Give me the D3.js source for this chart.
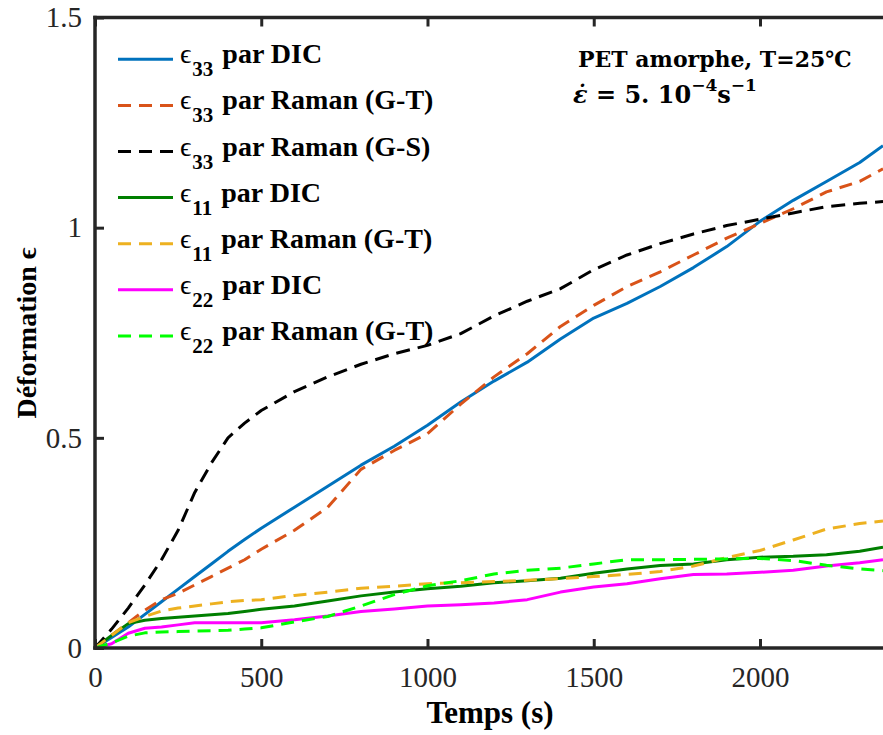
<!DOCTYPE html>
<html><head><meta charset="utf-8">
<script src="https://cdn.jsdelivr.net/npm/d3@7"></script>
<style>
body{margin:0;background:#fff}svg{display:block}
.tnr{font-family:"Liberation Serif","Times New Roman",Tinos,"Nimbus Roman","FreeSerif","DejaVu Serif",serif;}
.dvs{font-family:"DejaVu Serif",serif;}
</style>
</head><body>
<svg id="c" width="883" height="735"></svg>
<script>
// ---- data ----
const time = [0,50,100,150,200,250,300,350,400,450,500,600,700,800,900,1000,1100,1200,1300,1400,1500,1600,1700,1800,1900,2000,2100,2200,2300,2370];
const e33DIC = [0,.025,.05,.08,.11,.14,.17,.2,.23,.258,.285,.335,.385,.435,.48,.53,.585,.635,.68,.735,.785,.82,.86,.905,.955,1.015,1.065,1.11,1.155,1.195];
const e33RamanGT = [0,.03,.06,.09,.115,.13,.15,.17,.19,.21,.235,.28,.335,.425,.47,.51,.58,.645,.70,.765,.815,.86,.895,.935,.975,1.01,1.045,1.085,1.11,1.14];
const e33RamanGS = [0,.045,.095,.15,.21,.28,.37,.44,.5,.535,.565,.61,.645,.675,.7,.72,.748,.79,.825,.855,.9,.935,.962,.985,1.005,1.02,1.035,1.05,1.058,1.062];
const e11DIC = [0,.03,.058,.066,.07,.073,.076,.079,.082,.087,.092,.1,.112,.124,.133,.141,.147,.155,.16,.166,.178,.188,.196,.2,.21,.216,.218,.222,.23,.24];
const e11RamanGT = [0,.03,.06,.075,.088,.095,.1,.105,.11,.113,.115,.125,.133,.142,.147,.153,.155,.158,.161,.165,.17,.175,.182,.195,.215,.232,.257,.283,.296,.302];
const e22DIC = [0,.01,.035,.047,.05,.055,.06,.06,.06,.06,.06,.067,.076,.087,.093,.1,.103,.107,.115,.133,.145,.153,.165,.175,.176,.18,.185,.195,.203,.21];
const e22RamanGT = [0,.012,.028,.036,.038,.039,.04,.041,.042,.045,.048,.062,.075,.1,.127,.148,.16,.176,.185,.19,.2,.21,.21,.211,.212,.213,.208,.197,.188,.184];

const legendSub = ["33","33","33","11","11","22","22"];
const legendText = ["par DIC","par Raman (G-T)","par Raman (G-S)","par DIC","par Raman (G-T)","par DIC","par Raman (G-T)"];
const xTicks = [0,500,1000,1500,2000];
const yTicks = [0,0.5,1,1.5];
const yTickLabels = ["0","0.5","1","1.5"];

const series = [
  {v:e33DIC, color:"#0072BD", dash:null},
  {v:e33RamanGT, color:"#D95319", dash:"13,8"},
  {v:e33RamanGS, color:"#000000", dash:"14,8"},
  {v:e11DIC, color:"#007F00", dash:null},
  {v:e11RamanGT, color:"#EDB120", dash:"13,8"},
  {v:e22DIC, color:"#FF00FF", dash:null},
  {v:e22RamanGT, color:"#00FF00", dash:"13,8"}
];

// ---- layout ----
const L=95, T=17.5, B=648, R=883;
const svg = d3.select("#c");
const x = d3.scaleLinear().domain([0,2370]).range([L,R]);
const y = d3.scaleLinear().domain([0,1.5]).range([B,T]);
const axisColor = "#262626";

svg.append("defs").append("clipPath").attr("id","clip")
  .append("rect").attr("x",L).attr("y",T-5).attr("width",R-L+10).attr("height",B-T+10);

// lines
const line = d3.line().x((d,i)=>x(time[i])).y(d=>y(d));
const g = svg.append("g").attr("clip-path","url(#clip)");
series.forEach(s=>{
  g.append("path").datum(s.v).attr("d",line)
   .attr("fill","none").attr("stroke",s.color).attr("stroke-width",3)
   .attr("stroke-dasharray",s.dash).attr("stroke-linejoin","round");
});

// axes
const xAxis = svg.append("g").attr("transform",`translate(0,${B})`)
  .call(d3.axisBottom(x).tickValues(xTicks).tickSizeInner(-9).tickSizeOuter(0).tickPadding(18).tickFormat(d3.format("d")));
const xTop = svg.append("g").attr("transform",`translate(0,${T})`)
  .call(d3.axisTop(x).tickValues(xTicks).tickSizeInner(-9).tickSizeOuter(0).tickFormat(""));
const yAxis = svg.append("g").attr("transform",`translate(${L},0)`)
  .call(d3.axisLeft(y).tickValues(yTicks).tickSizeInner(-9).tickSizeOuter(0).tickPadding(13).tickFormat((d,i)=>yTickLabels[i]));
[xAxis,xTop,yAxis].forEach(a=>{
  a.attr("font-family",null).attr("font-size",null);
  a.select(".domain").attr("stroke",axisColor).attr("stroke-width",3.5);
  a.selectAll(".tick line").attr("stroke",axisColor).attr("stroke-width",3);
  a.selectAll(".tick text").attr("class","tnr").attr("fill","#262626").style("font-size","29px");
});
xAxis.select(".domain").attr("d",`M${L-1.75},0H${R+10}`);
xTop.select(".domain").attr("d",`M${L-1.75},0H${R+10}`);
yAxis.select(".domain").attr("d",`M0,${B+1.75}V${T-1.75}`);

// axis titles
svg.append("text").attr("class","tnr").attr("x",490).attr("y",723).attr("text-anchor","middle")
  .style("font-weight","bold").style("font-size","31px").text("Temps (s)");
svg.append("text").attr("class","tnr").attr("transform","translate(36,333) rotate(-90)").attr("text-anchor","middle")
  .style("font-weight","bold").style("font-size","28px").text("Déformation ϵ");

// legend
const legY0 = 59.3, legDY = 46.1;
series.forEach((s,i)=>{
  const ly = legY0 + i*legDY;
  svg.append("line").attr("x1",118).attr("x2",173).attr("y1",ly).attr("y2",ly)
    .attr("stroke",s.color).attr("stroke-width",3).attr("stroke-dasharray",s.dash ? "13,8" : null);
  const t = svg.append("text").attr("class","tnr").attr("x",180).attr("y",ly+4)
    .style("font-size","28px").attr("fill","#000");
  t.append("tspan").style("font-weight","normal").text("ϵ");
  t.append("tspan").style("font-weight","bold").style("font-size","21px").attr("dx",1).attr("dy",13).text(legendSub[i]);
  t.append("tspan").style("font-weight","bold").attr("dx",9).attr("dy",-13).text(legendText[i]);
});

// annotation
svg.append("text").attr("class","dvs").attr("x",578).attr("y",67).style("font-weight","bold")
  .style("font-size","22px").text("PET amorphe, T=25℃");
const t2 = svg.append("text").attr("class","dvs").attr("x",573).attr("y",103).style("font-weight","bold").style("font-size","24px");
t2.append("tspan").style("font-style","italic").text("ε̇");
t2.append("tspan").text(" = 5. 10");
t2.append("tspan").style("font-size","17px").attr("dy",-12).text("−4");
t2.append("tspan").attr("dy",12).text("s");
t2.append("tspan").style("font-size","17px").attr("dy",-12).text("−1");
</script>
</body></html>
